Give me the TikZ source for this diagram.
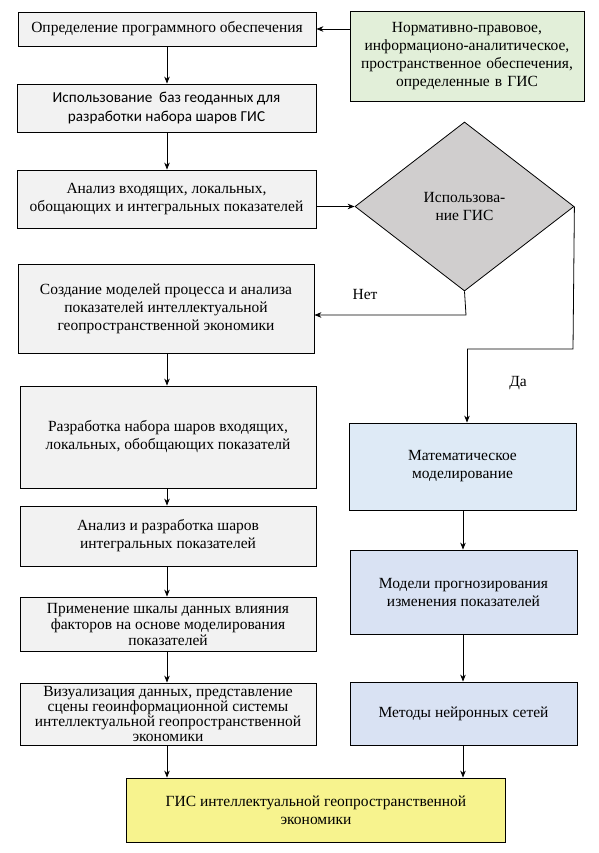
\documentclass[tikz,border=0pt]{standalone}
\usepackage{fontspec}
\setmainfont{Liberation Serif}
\newfontfamily\tms{Liberation Serif}
\newfontfamily\calib{Carlito}
\usetikzlibrary{shapes.geometric,arrows.meta}
\definecolor{grayfill}{HTML}{F2F2F2}
\definecolor{greenfill}{HTML}{E2EFD9}
\definecolor{diafill}{HTML}{D0CECE}
\definecolor{bluea}{HTML}{DEEAF6}
\definecolor{blueb}{HTML}{D9E2F3}
\definecolor{yellowfill}{HTML}{F7F38E}
\tikzset{
  box/.style={draw=black, line width=0.8pt, rectangle, inner sep=2pt, align=center,
    font=\tms\fontsize{15.5}{18}\selectfont},
  graybox/.style={box, fill=grayfill},
  arr/.style={-{Stealth[length=7pt,width=5.5pt]}, line width=0.8pt},
  lbl/.style={font=\tms\fontsize{15.5}{18}\selectfont}
}
\begin{document}
\begin{tikzpicture}[x=1pt,y=-1pt]
\useasboundingbox (0,0) rectangle (598,853);
\fill[white] (0,0) rectangle (598,853);
% left column
\node[graybox, minimum width=298pt, minimum height=34pt] (b1) at (167,29) {Определение программного обеспечения};
\node[box, fill=greenfill, minimum width=234pt, minimum height=90pt, text width=228pt] (g) at (467,56) {Нормативно-правовое,\\информационо-аналитическое,\\пространственное обеспечения,\\определенные в ГИС};
\node[graybox, minimum width=299pt, minimum height=48pt, font=\calib\fontsize{15.2}{19}\selectfont] (b2) at (166.5,108) {Использование\ \ баз геоданных для\\разработки набора шаров ГИС};
\node[graybox, minimum width=299pt, minimum height=58pt] (b3) at (166.5,199) {Анализ входящих, локальных,\\обощающих и интегральных показателей};
\node[diamond, draw=black, line width=0.8pt, fill=diafill, minimum width=219pt, minimum height=169pt, inner sep=0pt, align=center, font=\tms\fontsize{15.5}{18}\selectfont] (dia) at (464.5,206.5) {Использова-\\ние ГИС};
\node[graybox, minimum width=296pt, minimum height=89pt] (b4) at (166,308.5) {Создание моделей процесса и анализа\\показателей интеллектуальной\\геопространственной экономики};
\node[graybox, minimum width=296pt, minimum height=102pt] (b5) at (168,437) {Разработка набора шаров входящих,\\локальных, обобщающих показателй};
\node[graybox, minimum width=296pt, minimum height=60pt] (b6) at (168,536) {Анализ и разработка шаров\\интегральных показателей};
\node[graybox, minimum width=296pt, minimum height=54pt, font=\tms\fontsize{15.5}{16}\selectfont] (b7) at (168,624) {Применение шкалы данных влияния\\факторов на основе моделирования\\показателей};
\node[graybox, minimum width=296pt, minimum height=62pt, inner sep=0.5pt, font=\tms\fontsize{15.5}{15}\selectfont] (b8) at (168,714) {Визуализация данных, представление\\сцены геоинформационной системы\\интеллектуальной геопространственной\\экономики};
% right column
\node[box, fill=bluea, minimum width=227pt, minimum height=87pt] (m1) at (462.5,466.5) {Математическое\\моделирование};
\node[box, fill=blueb, minimum width=227pt, minimum height=84pt] (m2) at (463.5,592) {Модели прогнозирования\\изменения показателей};
\node[box, fill=blueb, minimum width=227pt, minimum height=63pt] (m3) at (463.5,713.5) {Методы нейронных сетей};
\node[box, fill=yellowfill, minimum width=379pt, minimum height=64pt] (y) at (316,810) {ГИС интеллектуальной геопространственной\\экономики};
% labels
\node[lbl] (net) at (365,294) {Нет};
\node[lbl] (da) at (518,383) {Да};
% helper coordinates
\coordinate (netturn) at (466,315);
\coordinate (daturn) at (573,349);
\coordinate (dadown) at (467,349);
% connectors
\draw[arr] (b1.east -| g.west) -- (b1.east);
\draw[arr] (b1.south -| 167,0) -- (b2.north -| 167,0);
\draw[arr] (b2.south -| 167,0) -- (b3.north -| 167,0);
\draw[arr] (b3.east |- dia.west) -- (dia.west);
\draw[arr] (dia.south) -- (netturn) -- (b4.east |- netturn);
\draw[line width=0.8pt] (dia.east) -- (daturn) -- (dadown);
\draw[arr] (dadown) -- (dadown |- m1.north);
\draw[arr] (b4.south -| 167,0) -- (b5.north -| 167,0);
\draw[arr] (b5.south -| 167,0) -- (b6.north -| 167,0);
\draw[arr] (b6.south -| 167,0) -- (b7.north -| 167,0);
\draw[arr] (b7.south -| 167,0) -- (b8.north -| 167,0);
\draw[arr] (b8.south -| 167,0) -- (y.north -| 167,0);
\draw[arr] (m1.south -| 463,0) -- (m2.north -| 463,0);
\draw[arr] (m2.south -| 463,0) -- (m3.north -| 463,0);
\draw[arr] (m3.south -| 463,0) -- (y.north -| 463,0);
\end{tikzpicture}
\end{document}
